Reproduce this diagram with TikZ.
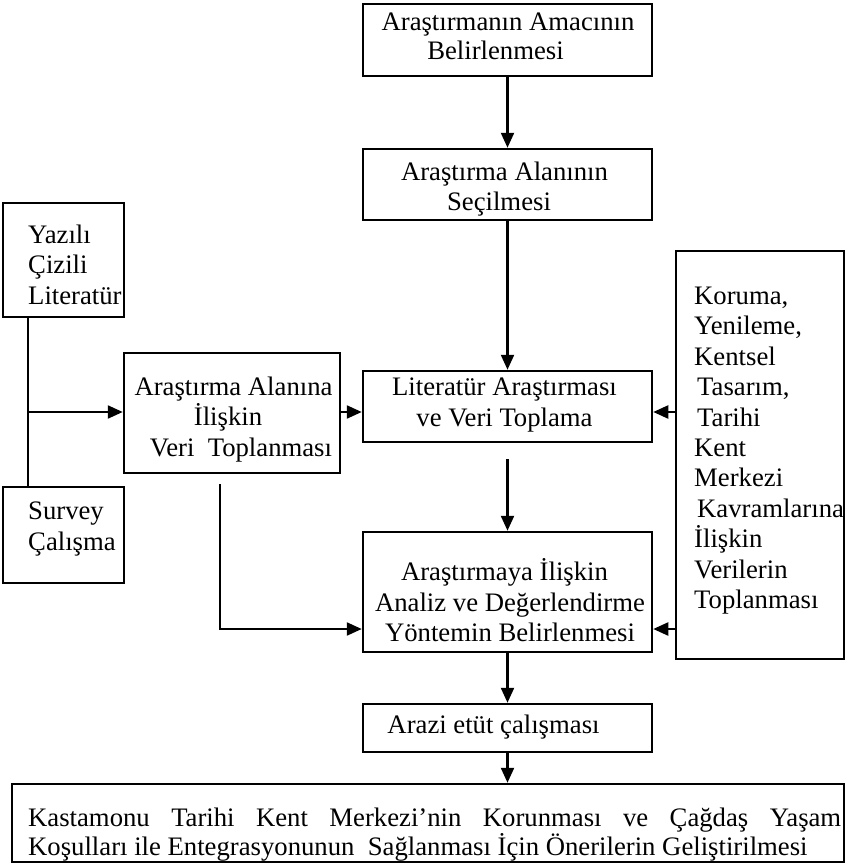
\documentclass[tikz,border=0pt]{standalone}
\usepackage{fontspec}
\setmainfont{Liberation Serif}
\usetikzlibrary{arrows.meta}
\tikzset{
  box/.style={draw, line width=2.5pt, inner sep=0pt},
  arr/.style={line width=2.3pt, -{Triangle[length=15pt,width=13pt]}},
  ln/.style={line width=2.3pt},
  txt/.style={inner sep=0pt},
}
\newcommand\fs{\rule{0pt}{25pt}}
\newcommand\fz[1]{\fontsize{26.7}{#1}\selectfont}
\begin{document}
\begin{tikzpicture}[x=1pt,y=-1pt]
\useasboundingbox (0,0) rectangle (853,864);
% boxes
\node[box, minimum width=289pt, minimum height=72pt] (b1) at (507.5,40) {};
\node[box, minimum width=289pt, minimum height=71pt] (b2) at (507.5,184.5) {};
\node[box, minimum width=289pt, minimum height=71pt] (lit) at (507.5,406.5) {};
\node[box, minimum width=216pt, minimum height=120pt] (veri) at (232,413) {};
\node[box, minimum width=121pt, minimum height=114pt] (yaz) at (63.5,260) {};
\node[box, minimum width=121pt, minimum height=96pt] (sur) at (63.5,535) {};
\node[box, minimum width=168pt, minimum height=408pt] (kor) at (760,455) {};
\node[box, minimum width=289pt, minimum height=120pt] (ana) at (507.5,592) {};
\node[box, minimum width=289pt, minimum height=48pt] (ara) at (507.5,728) {};
\node[box, minimum width=832pt, minimum height=78pt] (fin) at (428,823) {};
% texts
\node[txt, align=center, anchor=north, font=\fz{29}] (t1) at (508,5)
  {\fs Araştırmanın Amacının\\\hspace*{-25pt}Belirlenmesi};
\node[txt, align=center, anchor=north, font=\fz{30}] (t2) at (504.5,155)
  {\fs Araştırma Alanının\\\hspace*{-11pt}Seçilmesi};
\node[txt, align=center, anchor=north, font=\fz{31}] (tlit) at (504.5,370.7)
  {\fs Literatür Araştırması\\ve Veri Toplama};
\node[txt, align=center, anchor=north, font=\fz{30.7}] (tveri) at (233.5,370)
  {\fs Araştırma Alanına\\\hspace*{-11pt}İlişkin\\\hspace*{15pt}Veri~~Toplanması};
\node[txt, align=center, anchor=north, font=\fz{30.8}] (tana) at (510,555)
  {\fs\hspace*{-11pt}Araştırmaya İlişkin\\Analiz ve Değerlendirme\\Yöntemin Belirlenmesi};
\node[txt, align=center, anchor=north, font=\fz{30}] (tara) at (493.5,708)
  {\fs Arazi etüt çalışması};
\node[txt, align=left, anchor=north west, font=\fz{30.5}] (tyaz) at (28,218)
  {\fs Yazılı\\Çizili\\Literatür};
\node[txt, align=left, anchor=north west, font=\fz{31}] (tsur) at (28,494)
  {\fs Survey\\Çalışma};
\node[txt, align=left, anchor=north west, font=\fz{30.4}] (tkor) at (694,279.3)
  {\fs Koruma,\\Yenileme,\\Kentsel\\\hspace*{3pt}Tasarım,\\\hspace*{3pt}Tarihi\\Kent\\Merkezi\\\hspace*{3pt}Kavramlarına\\İlişkin\\Verilerin\\Toplanması};
\node[txt, align=left, anchor=north west, font=\fz{27}] (tfin) at (28,801)
  {\fs\makebox[813pt][s]{Kastamonu Tarihi Kent Merkezi’nin Korunması ve Çağdaş Yaşam}\\Koşulları ile Entegrasyonunun~~Sağlanması İçin Önerilerin Geliştirilmesi};
% coordinates
\coordinate (j) at (28,412);
\coordinate (k2) at (0,629);
\coordinate (litgap) at (507.5,459);
\coordinate (vgap) at (220,484);
% connectors
\draw[arr] (b1) -- (b2);
\draw[arr] (b2) -- (lit);
\draw[arr] (litgap) -- (litgap |- ana.north);
\draw[arr] (ana) -- (ara);
\draw[arr] (ara.south) -- (ara.south |- fin.north);
\draw[ln] (j |- yaz.south) -- (j |- sur.north);
\draw[arr] (j) -- (j -| veri.west);
\draw[arr] (veri.east |- j) -- (lit.west |- j);
\draw[arr] (kor.west |- j) -- (lit.east |- j);
\draw[arr] (kor.west |- k2) -- (ana.east |- k2);
\draw[arr] (vgap) |- (ana.west |- k2);
\end{tikzpicture}
\end{document}
